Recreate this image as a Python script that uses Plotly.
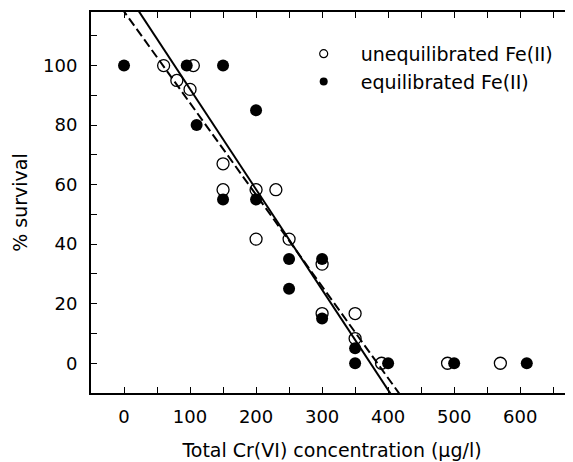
import numpy as np
import plotly.graph_objects as go

# unequilibrated Fe(II) (open circles)
unequil_x = [60, 80, 100, 105, 150, 150, 200, 200, 230, 250, 300, 300, 350, 350, 390, 490, 570]
unequil_y = [100, 95, 92, 100, 67, 58.3, 58.3, 41.7, 58.3, 41.7, 33.3, 16.7, 16.7, 8.3, 0, 0, 0]

# equilibrated Fe(II) (filled circles)
equil_x = [0, 95, 110, 150, 150, 200, 200, 250, 250, 300, 300, 350, 350, 400, 500, 610]
equil_y = [100, 100, 80, 100, 55, 85, 55, 35, 25, 35, 15, 5, 0, 0, 0, 0]

# regression lines (intercept, slope)
solid_fit = [125.8, -0.337]
dashed_fit = [118.2, -0.308]

x_ticks = list(range(0, 651, 50))
x_labels = [str(v) if v % 100 == 0 else "" for v in x_ticks]
y_ticks = list(range(0, 111, 10))
y_labels = [str(v) if (v % 20 == 0 and v <= 100) else "" for v in y_ticks]

x_range = [-50, 680]
y_range = [-10, 118]

FONT = "DejaVu Sans, Liberation Sans, Arial, sans-serif"

fig = go.Figure()

line_x = np.array(x_range, dtype=float)
fig.add_trace(go.Scatter(x=line_x, y=solid_fit[0] + solid_fit[1] * line_x, mode="lines",
                         line=dict(color="black", width=2), showlegend=False, hoverinfo="skip"))
fig.add_trace(go.Scatter(x=line_x, y=dashed_fit[0] + dashed_fit[1] * line_x, mode="lines",
                         line=dict(color="black", width=2, dash="9px,4px"), showlegend=False, hoverinfo="skip"))

fig.add_trace(go.Scatter(x=unequil_x, y=unequil_y, mode="markers", name="unequilibrated Fe(II)",
                         marker=dict(symbol="circle-open", size=12, color="black", line=dict(width=1.3)),
                         cliponaxis=False, showlegend=False))
fig.add_trace(go.Scatter(x=equil_x, y=equil_y, mode="markers", name="equilibrated Fe(II)",
                         marker=dict(symbol="circle", size=12, color="black"),
                         cliponaxis=False, showlegend=False))

# legend entries (smaller symbols, as in the reference legend)
fig.add_trace(go.Scatter(x=[None], y=[None], mode="markers", name="unequilibrated Fe(II)",
                         marker=dict(symbol="circle-open", size=8, color="black", line=dict(width=1.2))))
fig.add_trace(go.Scatter(x=[None], y=[None], mode="markers", name="equilibrated Fe(II)",
                         marker=dict(symbol="circle", size=8, color="black")))

axis_common = dict(showgrid=False, zeroline=False, showline=True, linecolor="black", linewidth=2,
                   mirror="ticks", ticks="inside", ticklen=6, tickwidth=1, tickcolor="black",
                   automargin=False,
                   tickfont=dict(family=FONT, size=18, color="black"))

fig.update_xaxes(range=x_range, tickvals=x_ticks, ticktext=x_labels,
                 title=dict(text="Total Cr(VI) concentration (µg/l)", font=dict(family=FONT, size=19, color="black"),
                            standoff=18),
                 ticklabelstandoff=6, **axis_common)
fig.update_yaxes(range=y_range, tickvals=y_ticks, ticktext=y_labels,
                 title=dict(text="% survival", font=dict(family=FONT, size=19, color="black"), standoff=10),
                 ticklabelstandoff=8, **axis_common)

fig.update_layout(
    width=565, height=454,
    margin=dict(l=83, r=0, t=4, b=69),
    paper_bgcolor="white", plot_bgcolor="white",
    font=dict(family=FONT, size=17, color="black"),
    legend=dict(x=0.406, y=0.94, xanchor="left", yanchor="top", bgcolor="rgba(0,0,0,0)",
                itemwidth=64, font=dict(family=FONT, size=19, color="black")),
)

fig.write_html("out.html")
